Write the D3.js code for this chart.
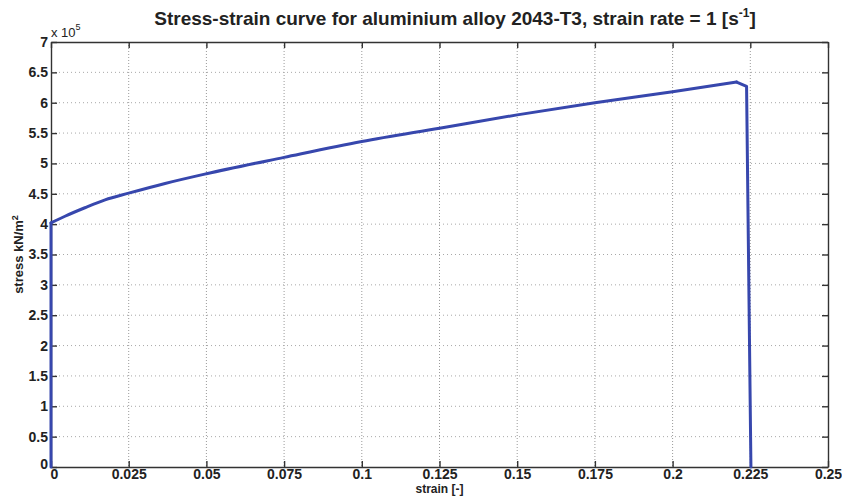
<!DOCTYPE html>
<html>
<head>
<meta charset="utf-8">
<script src="https://cdn.jsdelivr.net/npm/d3@7"></script>
<style>
  body { margin: 0; background: #fff; }
  text { font-family: "Liberation Sans", Arial, sans-serif; fill: #222; }
</style>
</head>
<body>
<svg id="chart" width="842" height="497"></svg>
<script>
// strain [-] and stress (x 10^5 kN/m^2)
const strain = [0, 0, 0.0045, 0.0109, 0.0174, 0.025, 0.0367, 0.05, 0.075, 0.1, 0.125, 0.15, 0.175, 0.2, 0.2206, 0.2238, 0.2252];
const stress = [0, 4.02, 4.13, 4.27, 4.40, 4.51, 4.67, 4.83, 5.10, 5.36, 5.58, 5.80, 6.00, 6.18, 6.34, 6.27, 0];
const xTicks = [0, 0.025, 0.05, 0.075, 0.1, 0.125, 0.15, 0.175, 0.2, 0.225, 0.25];
const yTicks = [0, 0.5, 1, 1.5, 2, 2.5, 3, 3.5, 4, 4.5, 5, 5.5, 6, 6.5, 7];

const margin = {top: 42, right: 14, bottom: 30, left: 51};
const width = 842 - margin.left - margin.right;
const height = 497 - margin.top - margin.bottom;

const svg = d3.select('#chart');
const g = svg.append('g')
  .attr('transform', `translate(${margin.left},${margin.top})`);

const x = d3.scaleLinear().domain([0, 0.25]).range([0, width]);
const y = d3.scaleLinear().domain([0, 7]).range([height, 0]);

// Grid
g.append('g').selectAll('line')
  .data(xTicks.slice(1, -1))
  .join('line')
    .attr('x1', d => x(d)).attr('x2', d => x(d))
    .attr('y1', 0).attr('y2', height)
    .attr('stroke', '#9a9a9a')
    .attr('stroke-dasharray', '1,2');

g.append('g').selectAll('line')
  .data(yTicks.slice(1, -1))
  .join('line')
    .attr('y1', d => y(d)).attr('y2', d => y(d))
    .attr('x1', 0).attr('x2', width)
    .attr('stroke', '#a8a8a8')
    .attr('stroke-dasharray', '1,3');

// Axes (inward ticks on all four sides)
const fmt = d => String(d);

const xAxis = g.append('g')
  .attr('transform', `translate(0,${height})`)
  .call(d3.axisBottom(x).tickValues(xTicks).tickFormat(fmt).tickSizeInner(-6).tickSizeOuter(0).tickPadding(2));

const yAxis = g.append('g')
  .call(d3.axisLeft(y).tickValues(yTicks).tickFormat(fmt).tickSizeInner(-6).tickSizeOuter(0).tickPadding(3));

g.append('g')
  .call(d3.axisTop(x).tickValues(xTicks).tickFormat('').tickSizeInner(-6).tickSizeOuter(0));

g.append('g')
  .attr('transform', `translate(${width},0)`)
  .call(d3.axisRight(y).tickValues(yTicks).tickFormat('').tickSizeInner(-6).tickSizeOuter(0));

g.selectAll('.domain').attr('stroke', '#333').attr('stroke-width', 1.4);
g.selectAll('.tick line').attr('stroke', '#333').attr('stroke-width', 1.4);

g.selectAll('.tick text')
  .style('font-size', '14px').style('font-weight', 'bold').style('fill', '#222');

// The "0" labels sit like MATLAB draws them
xAxis.selectAll('.tick').filter(d => d === 0).select('text').attr('x', 3);
yAxis.selectAll('.tick').filter(d => d === 0).select('text').attr('dy', '0.1em');

// Curve: vertical rise, smooth hardening part, then the drop
const pts = strain.map((s, i) => [s, stress[i]]);
const straight = d3.line().x(d => x(d[0])).y(d => y(d[1]));
const smooth = d3.line().x(d => x(d[0])).y(d => y(d[1])).curve(d3.curveMonotoneX);

const curve = g.append('g')
  .attr('fill', 'none')
  .attr('stroke', '#3747ad')
  .attr('stroke-width', 3)
  .attr('stroke-linejoin', 'round')
  .attr('stroke-linecap', 'round');

curve.append('path').attr('d', straight(pts.slice(0, 2)));
curve.append('path').attr('d', smooth(pts.slice(1, 15)));
curve.append('path').attr('d', straight(pts.slice(14)));

// Exponent label
const expo = svg.append('text')
  .attr('x', 51).attr('y', 37)
  .style('font-size', '13px');
expo.append('tspan').text('x 10');
expo.append('tspan').style('font-size', '9px').attr('dy', -7).text('5');

// Title
const title = svg.append('text')
  .attr('x', 455).attr('y', 25)
  .attr('text-anchor', 'middle')
  .style('font-size', '19px')
  .style('font-weight', 'bold');
title.append('tspan').text('Stress-strain curve for aluminium alloy 2043-T3, strain rate = 1  [s');
title.append('tspan').style('font-size', '12px').attr('dy', -8).text('-1');
title.append('tspan').attr('dy', 8).text(']');

// Axis labels
svg.append('text')
  .attr('x', margin.left + x(0.125)).attr('y', 493)
  .attr('text-anchor', 'middle')
  .style('font-size', '12px').style('font-weight', 'bold')
  .text('strain [-]');

const yl = svg.append('text')
  .attr('transform', `translate(23,${margin.top + y(3.5)}) rotate(-90)`)
  .attr('text-anchor', 'middle')
  .style('font-size', '13px').style('font-weight', 'bold');
yl.append('tspan').text('stress kN/m');
yl.append('tspan').style('font-size', '9px').attr('dy', -5).text('2');
</script>
</body>
</html>
